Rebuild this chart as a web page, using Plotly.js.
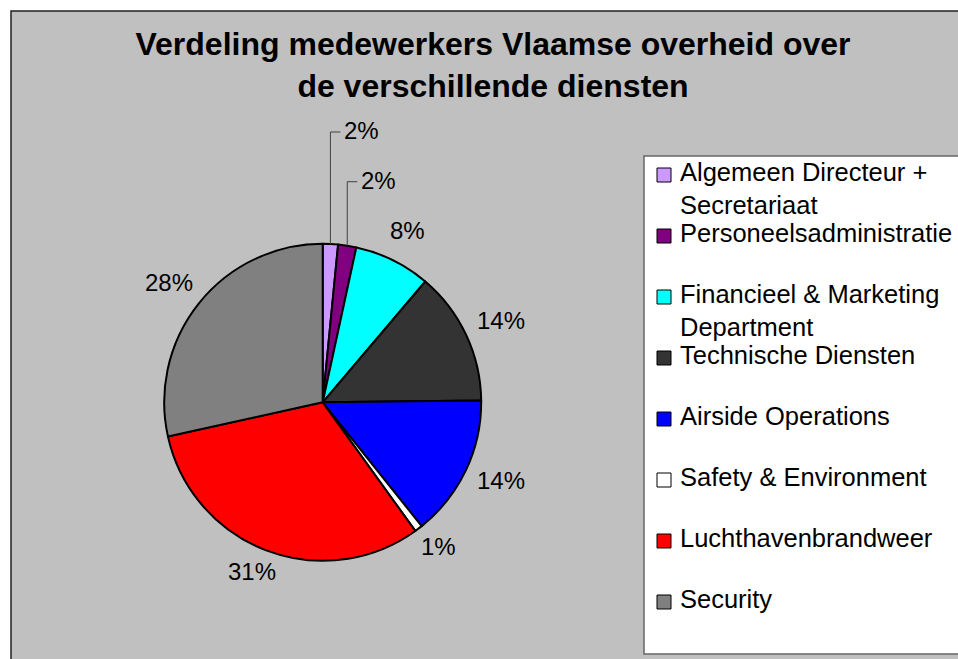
<!DOCTYPE html>
<html>
<head>
<meta charset="utf-8">
<script src="https://cdn.plot.ly/plotly-3.0.1.min.js"></script>
<style>html,body{margin:0;padding:0;background:#fff;}#chart{width:958px;height:659px;}</style>
</head>
<body>
<div id="chart"></div>
<script>
// ---- data ----
const labels = ['Algemeen Directeur + Secretariaat', 'Personeelsadministratie', 'Financieel & Marketing Department', 'Technische Diensten', 'Airside Operations', 'Safety & Environment', 'Luchthavenbrandweer', 'Security'];
const legendLabels = ['Algemeen Directeur +<br>Secretariaat', 'Personeelsadministratie', 'Financieel & Marketing<br>Department', 'Technische Diensten', 'Airside Operations', 'Safety & Environment', 'Luchthavenbrandweer', 'Security'];
const values = [1.55, 1.85, 7.8, 13.6, 14.45, 0.8, 31.45, 28.45];
const colors = ['#cc99ff', '#800080', '#00ffff', '#333333', '#0000ff', '#ffffff', '#ff0000', '#808080'];
const titleText = 'Verdeling medewerkers Vlaamse overheid over<br>de verschillende diensten';

// ---- layout helpers (pixels -> paper) ----
const W = 958, H = 659;
const px = x => x / W;
const py = y => 1 - y / H;
const FONT = 'Liberation Sans, Arial, sans-serif';

const cx = 322.7, cy = 402.3, r = 158.5;
const total = values.reduce((a, b) => a + b, 0);

const shapes = [];
const annotations = [];

// chart area background + border
shapes.push({type: 'rect', xref: 'paper', yref: 'paper', x0: px(11), x1: 1.1, y0: py(11), y1: -0.1,
  fillcolor: '#c0c0c0', line: {color: '#222222', width: 1.5}, layer: 'below'});
// legend box
shapes.push({type: 'rect', xref: 'paper', yref: 'paper', x0: px(644), x1: 1.1, y0: py(156), y1: py(654),
  fillcolor: '#ffffff', line: {color: '#666666', width: 1.5}, layer: 'below'});

// percent labels
let cum = 0;
const smallRise = [112, 64];
let smallIdx = 0;
values.forEach((v, i) => {
  const frac = v / total;
  const mid = (cum + frac / 2) * 2 * Math.PI;
  cum += frac;
  const s = Math.sin(mid), c = Math.cos(mid);
  const txt = Math.round(frac * 100) + '%';
  if (frac < 0.025 && Math.abs(s) < 0.3 && c > 0 && smallIdx < smallRise.length) {
    const ex = cx + r * s, ey = cy - r * c;
    const ly = ey - smallRise[smallIdx++];
    shapes.push({type: 'path', xref: 'paper', yref: 'paper',
      path: `M ${px(ex)} ${py(ey)} L ${px(ex)} ${py(ly)} L ${px(ex + 10)} ${py(ly)}`,
      line: {color: '#404040', width: 1}, layer: 'above'});
    annotations.push({xref: 'paper', yref: 'paper', x: px(ex + 12), y: py(ly - 1), xanchor: 'left', yanchor: 'middle',
      text: txt, showarrow: false, font: {family: FONT, size: 24, color: '#000'}});
  } else {
    const g = 15;
    const w = (String(Math.round(frac * 100)).length * 0.556 + 0.889) * 24;
    const h = c > 0 ? 36 : 16;
    const tx = cx + (r + g) * s + (w / 2) * s;
    const ty = cy - (r + g) * c - (h / 2) * c;
    annotations.push({xref: 'paper', yref: 'paper', x: px(tx), y: py(ty), xanchor: 'center', yanchor: 'middle',
      text: txt, showarrow: false, font: {family: FONT, size: 24, color: '#000'}});
  }
});

// custom legend
legendLabels.forEach((t, i) => {
  const capY = 171 + 61 * i;
  shapes.push({type: 'rect', xref: 'paper', yref: 'paper', x0: px(657), x1: px(671), y0: py(capY - 3), y1: py(capY + 11),
    fillcolor: colors[i], line: {color: '#000', width: 1}, layer: 'above'});
  annotations.push({xref: 'paper', yref: 'paper', x: px(678), y: py(capY - 15), xanchor: 'left', yanchor: 'top', align: 'left',
    text: t, showarrow: false, font: {family: FONT, size: 25.5, color: '#000'}});
});

const trace = {
  type: 'pie',
  labels: labels,
  values: values,
  sort: false,
  direction: 'clockwise',
  rotation: 0,
  marker: {colors: colors, line: {color: '#000000', width: 2}},
  textinfo: 'none',
  hoverinfo: 'label+percent',
  domain: {x: [px(cx - r), px(cx + r)], y: [py(cy + r), py(cy - r)]},
  showlegend: false
};

const layout = {
  width: W, height: H,
  margin: {l: 0, r: 0, t: 0, b: 0},
  paper_bgcolor: '#ffffff',
  showlegend: false,
  title: {text: titleText, x: px(493), xanchor: 'center', xref: 'paper', y: py(55), yref: 'container', yanchor: 'top',
    font: {family: FONT, size: 32, color: '#000', weight: 'bold'}},
  shapes: shapes,
  annotations: annotations
};

Plotly.newPlot('chart', [trace], layout, {displayModeBar: false, staticPlot: true});
</script>
</body>
</html>
